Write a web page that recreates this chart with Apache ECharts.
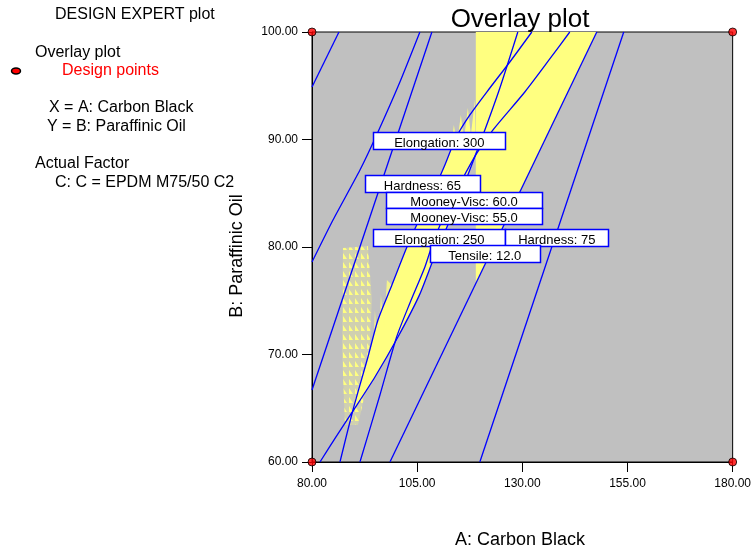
<!DOCTYPE html>
<html>
<head>
<meta charset="utf-8">
<script src="https://cdn.jsdelivr.net/npm/echarts@6/dist/echarts.min.js"></script>
<style>html,body{margin:0;padding:0;background:#fff}#c{width:754px;height:555px}</style>
</head>
<body>
<div id="c"></div>
<script>
// ---- data (A: Carbon Black, B: Paraffinic Oil) ----
const hardness75 = [[119.90,60],[154.11,100]];
const tensile12 = [[98.53,60],[147.70,100]];
const line1 = [[80,94.88],[86.41,100]];
const line2 = [[80,78.60],[84.99,82.51],[91.40,87.16],[95.68,90.70],[100.90,95.35],[105.65,100]];
const line3 = [[80,66.70],[108.50,100]];
const curveE = [[81.90,60],[85.70,62.33],[89.43,64.56],[94.96,67.91],[100.43,71.63],[105.50,75.50],[109.00,79.00],[112.78,82.51],[117.05,86.70],[121.09,90.88],[124.66,94.79],[128.93,100]];
const curveM1 = [[86.65,60],[89.74,64.84],[93.30,69.77],[95.68,73.21],[99.00,76.47],[102.57,80.00],[105.65,82.70],[108.74,85.12],[111.59,87.63],[114.20,90.14],[117.53,92.28],[122.28,94.79],[127.03,97.21],[132.26,100]];
const curveM2 = [[91.40,60],[96.15,66.23],[100.12,71.63],[103.28,74.79],[106.84,78.14],[108.98,80.65],[112.07,83.44],[115.63,86.23],[119.19,88.74],[122.99,90.88],[130.59,94.42],[136.53,97.49],[141.28,100]];

const yellowUpper = [[118.95,100],[147.70,100],[118.95,76.61]];
const yellowWedge = [[89.43,64.56],[94.96,67.91],[100.43,71.63],[105.50,75.50],[109.00,79.00],[112.78,82.51],[117.05,86.70],[118.95,88.93],
  [118.72,93.67],[117.77,90.42],[117.05,92.93],[116.10,89.95],[115.39,92.28],[114.44,89.49],[113.73,91.35],[113.02,89.02],
  [111.59,87.63],[108.74,85.12],[105.65,82.70],[102.57,80.00],[99.00,76.47],[95.68,73.21],[93.30,69.77],[89.74,64.84]];
const yellowTexture = [[87.36,79.91],[93.30,80.09],[94.25,75.07],[93.30,67.63],[90.93,63.44],[87.84,63.44],[87.13,70.42]];
const yellowSpikes = [[94.25,67.63],[94.96,74.14],[95.68,69.95],[96.39,75.53],[97.10,72.28],[97.81,76.93],[99.00,76.47],[95.68,73.21],[93.30,69.77]];

const labelTexts = ['Elongation: 300','Hardness: 65','Mooney-Visc: 60.0','Mooney-Visc: 55.0','Elongation: 250','Hardness: 75','Tensile: 12.0'];
const labelA = [110.28,106.25,116.15,116.15,110.28,138.20,121.09];
const labelB = [89.91,85.89,84.34,82.87,80.89,80.89,79.35];

const designA = [80,180,80,180];
const designB = [100,100,60,60];

// ---- styles ----
const boxW = [132,115,156,156,132,103,110];
const boxH = [17,17,16,16,17,17,17];
const FONT = '"Liberation Sans", Arial, sans-serif';
const BLUE = '#0000ff';

// triangle texture for the speckled region
const pc = document.createElement('canvas');
pc.width = 6; pc.height = 9;
(function(){
  const g = pc.getContext('2d');
  g.fillStyle = 'rgba(255,255,128,0.25)'; g.fillRect(0,0,6,9);
  g.fillStyle = '#FFFF80';
  g.beginPath(); g.moveTo(1,1); g.lineTo(1,7); g.lineTo(5,7); g.closePath(); g.fill();
})();

function polySeries(poly, fill, z){
  return {type:'custom', z:z, clip:true, silent:true, data:[0],
    renderItem:(params, api)=>({type:'polygon', shape:{points: poly.map(p=>api.coord(p))}, style:{fill:fill}})};
}
function lineSeries(d, smooth){
  return {type:'line', data:d, showSymbol:false, smooth:smooth||false, silent:true, z:5,
    lineStyle:{color:BLUE, width:1.3}};
}

const chart = echarts.init(document.getElementById('c'), null, {renderer:'canvas'});
chart.setOption({
  animation:false,
  backgroundColor:'#fff',
  grid:{left:312, right:21, top:32, bottom:93, show:true, backgroundColor:'#C0C0C0', borderColor:'#000', borderWidth:1},
  xAxis:{type:'value', min:80, max:180, interval:25,
    axisLine:{show:true, lineStyle:{color:'#000', width:1}},
    axisTick:{show:true, length:10, lineStyle:{color:'#000'}},
    splitLine:{show:false},
    axisLabel:{formatter:v=>v.toFixed(2), fontSize:12, color:'#000', fontFamily:FONT, margin:16}},
  yAxis:{type:'value', min:60, max:100, interval:10,
    axisLine:{show:true, lineStyle:{color:'#000', width:1}},
    axisTick:{show:true, length:10, lineStyle:{color:'#000'}},
    splitLine:{show:false},
    axisLabel:{formatter:v=>v.toFixed(2), fontSize:12, color:'#000', fontFamily:FONT, margin:14}},
  graphic:[
    {type:'text', left:55, top:7, style:{text:'DESIGN EXPERT plot', font:'16px '+FONT, fill:'#000'}},
    {type:'text', left:35, top:45, style:{text:'Overlay plot', font:'16px '+FONT, fill:'#000'}},
    {type:'ellipse', shape:{cx:16, cy:71, rx:4.5, ry:3}, style:{fill:'#ff0000', stroke:'#000', lineWidth:1.5}},
    {type:'text', left:62, top:63, style:{text:'Design points', font:'16px '+FONT, fill:'#ff0000'}},
    {type:'text', left:49, top:100, style:{text:'X = A: Carbon Black', font:'16px '+FONT, fill:'#000'}},
    {type:'text', left:47, top:119, style:{text:'Y = B: Paraffinic Oil', font:'16px '+FONT, fill:'#000'}},
    {type:'text', left:35, top:156, style:{text:'Actual Factor', font:'16px '+FONT, fill:'#000'}},
    {type:'text', left:55, top:175, style:{text:'C: C = EPDM M75/50 C2', font:'16px '+FONT, fill:'#000'}},
    {type:'text', x:520, y:20, style:{text:'Overlay plot', font:'26px '+FONT, fill:'#000', align:'center', verticalAlign:'middle'}},
    {type:'text', x:520, y:540, style:{text:'A: Carbon Black', font:'18px '+FONT, fill:'#000', align:'center', verticalAlign:'middle'}},
    {type:'text', x:237, y:256, rotation:Math.PI/2, style:{text:'B: Paraffinic Oil', font:'18px '+FONT, fill:'#000', align:'center', verticalAlign:'middle'}}
  ],
  series:[
    polySeries(yellowUpper, '#FFFF80', 1),
    polySeries(yellowWedge, '#FFFF80', 1),
    polySeries(yellowTexture, {image: pc, repeat:'repeat'}, 1),
    polySeries(yellowSpikes, 'rgba(255,255,128,0.8)', 1),
    lineSeries(line1), lineSeries(line2, 0.2), lineSeries(line3),
    lineSeries(curveE, 0.25), lineSeries(curveM1, 0.25), lineSeries(curveM2, 0.25),
    lineSeries(tensile12), lineSeries(hardness75),
    {type:'custom', z:8, silent:true, clip:false,
      data: labelTexts.map((t,i)=>[labelA[i], labelB[i]]),
      renderItem:(params, api)=>{
        const i = params.dataIndex;
        const p = api.coord([api.value(0), api.value(1)]);
        const w = boxW[i], h = boxH[i];
        return {type:'group', children:[
          {type:'rect', shape:{x:Math.round(p[0]-w/2)+0.5, y:Math.round(p[1]-h/2)+0.5, width:w, height:h},
            style:{fill:'#fff', stroke:BLUE, lineWidth:1.5}},
          {type:'text', style:{text:labelTexts[i], x:p[0], y:p[1]+2.5, align:'center', verticalAlign:'middle',
            font:'13px '+FONT, fill:'#000'}}
        ]};
      }},
    {type:'scatter', z:10, clip:false, silent:true, symbol:'circle', symbolSize:8,
      data: designA.map((a,i)=>[a, designB[i]]),
      itemStyle:{color:'#ff0000', borderColor:'#000', borderWidth:1}}
  ]
});
</script>
</body>
</html>
